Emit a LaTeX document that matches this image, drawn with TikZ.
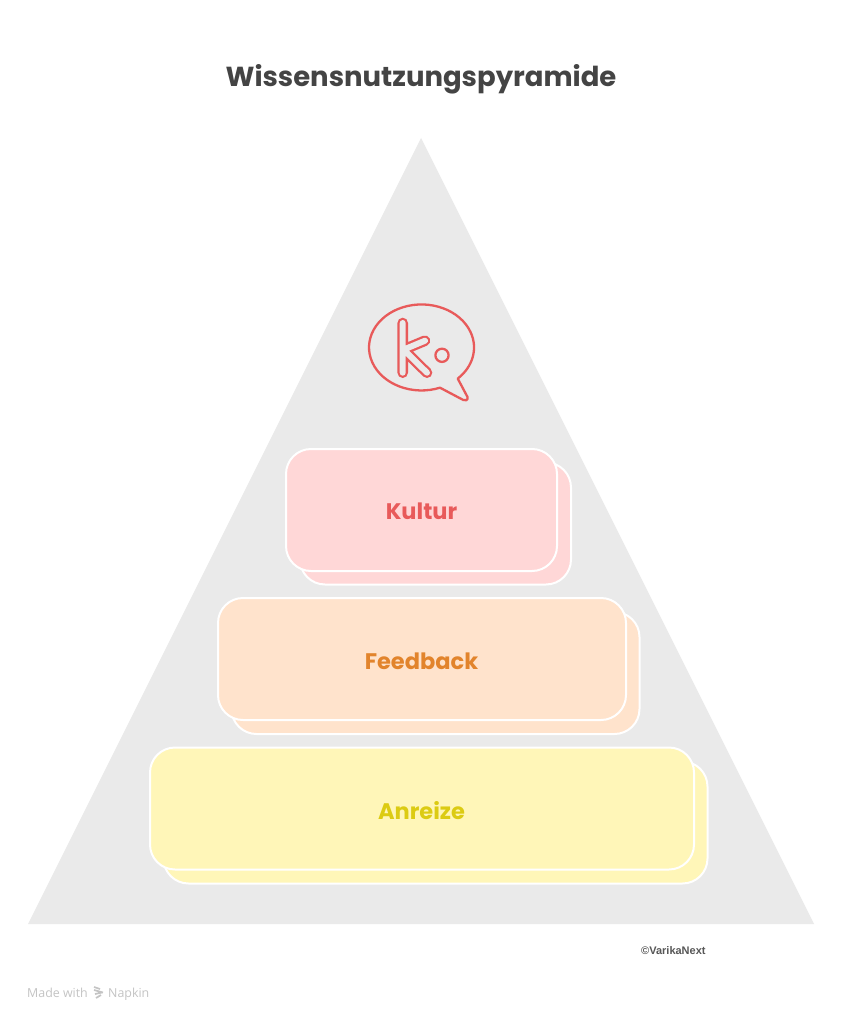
\documentclass[tikz,border=0pt]{standalone}
\usepackage{fontspec}
\setmainfont{Poppins}[BoldFont=Poppins Bold]
\newfontfamily\footfont{Open Sans}
\newfontfamily\creditfont{Liberation Sans}
\definecolor{pyrgray}{HTML}{EAEAEA}
\definecolor{titlegray}{HTML}{444444}
\definecolor{redfill}{HTML}{FFD7D7}
\definecolor{redtext}{HTML}{E85A5A}
\definecolor{orangefill}{HTML}{FFE3CC}
\definecolor{orangetext}{HTML}{E2842C}
\definecolor{yellowfill}{HTML}{FFF6B8}
\definecolor{yellowtext}{HTML}{DCCB12}
\definecolor{footgray}{HTML}{C4C4C4}
\tikzset{
  card/.style={draw=white,line width=2pt,rounded corners=25pt,inner sep=0pt,minimum height=122pt},
  cardlabel/.style={font=\bfseries\fontsize{22.5}{26}\selectfont,inner sep=0pt},
  iconred/.style={draw=redtext,line width=2.3pt,line cap=round,line join=round},
  klo/.style={redtext,line width=10.6pt,line cap=round,line join=round},
  kin/.style={pyrgray,line width=6pt,line cap=round,line join=round},
  logostroke/.style={footgray,line width=1.7pt},
  foottext/.style={font=\footfont\fontsize{12.4}{14}\selectfont,text=footgray,inner sep=0pt,anchor=base west}
}
\begin{document}
\begin{tikzpicture}[x=1pt,y=-1pt]
\useasboundingbox (0,0) rectangle (843,1024);
\fill[white] (0,0) rectangle (843,1024);
\node[font=\bfseries\fontsize{27.5}{32}\selectfont,text=titlegray,inner sep=0pt] (title) at (421,79) {Wissensnutzungspyramide};
\fill[pyrgray] (421,138) -- (814,924) -- (28,924) -- cycle;
% Kultur
\node[card,fill=redfill,minimum width=271pt] (kulturback) at (435.5,523.5) {};
\node[card,fill=redfill,minimum width=271pt] (kultur) at (421.5,510) {};
\node[cardlabel,text=redtext] (kulturtext) at (421.5,511) {Kultur};
% Feedback
\node[card,fill=orangefill,minimum width=408pt] (feedbackback) at (435.5,673) {};
\node[card,fill=orangefill,minimum width=408pt] (feedback) at (422,659) {};
\node[cardlabel,text=orangetext] (feedbacktext) at (421.5,661) {Feedback};
% Anreize
\node[card,fill=yellowfill,minimum width=544pt] (anreizeback) at (435.5,822.5) {};
\node[card,fill=yellowfill,minimum width=544pt] (anreize) at (422,808.5) {};
\node[cardlabel,text=yellowtext] (anreizetext) at (421.5,810.5) {Anreize};
% icon
\draw[iconred,fill=pyrgray] (440,387.7) arc[start angle=-69.4,end angle=-406.4,x radius=52.5pt,y radius=43pt]
  -- (467.5,397) .. controls (468.5,400.5) and (465,401) .. (463.3,400) -- cycle;
\draw[klo] (402.7,323) -- (402.7,372.7) (402.7,350) -- (425,340.7) (406,352) -- (427,372.7);
\draw[kin] (402.7,323) -- (402.7,372.7) (402.7,350) -- (425,340.7) (406,352) -- (427,372.7);
\draw[iconred] (442,355.3) circle (6.6);
% footer
\node[font=\creditfont\bfseries\fontsize{11}{13}\selectfont,text=titlegray!90,inner sep=0pt,anchor=west] (credit) at (641,950.5) {©VarikaNext};
\node[foottext] (made) at (27,997) {Made with};
\node[foottext] (napkin) at (108,997) {Napkin};
\draw[logostroke] (94,987) -- (100,989) (94,990) -- (103,992.5) (95,994) -- (102,992.5) (96,998) -- (101,995);
\end{tikzpicture}
\end{document}
